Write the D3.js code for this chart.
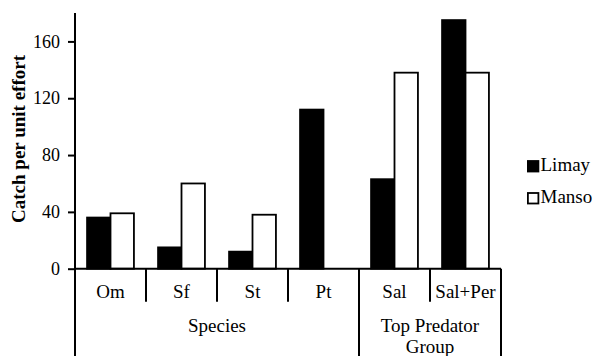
<!DOCTYPE html>
<html>
<head>
<meta charset="utf-8">
<script src="https://cdn.jsdelivr.net/npm/d3@7"></script>
<style>
  body { margin: 0; background: #fff; }
  svg text { font-family: "Liberation Serif", "Times New Roman", Times, serif; fill: #000; }
</style>
</head>
<body>
<div id="visContainer"></div>
<script>
// values
const categories = ["Om", "Sf", "St", "Pt", "Sal", "Sal+Per"];
const seriesNames = ["Limay", "Manso"];
const limay = [36, 15, 12, 112, 63, 175];
const manso = [39, 60, 38, 0, 138, 138];
const groups = [
  { label: ["Species"], first: "Om", last: "Pt" },
  { label: ["Top Predator", "Group"], first: "Sal", last: "Sal+Per" }
];
const yTicks = [0, 40, 80, 120, 160];

const width = 595;
const height = 356;
const margin = { top: 13, left: 75, right: 94, axisY: 268.7 };

const svg = d3.select("#visContainer")
  .append("svg")
  .attr("width", width)
  .attr("height", height);

const xScale = d3.scaleBand()
  .domain(categories)
  .range([margin.left, width - margin.right])
  .padding(0);

const bw = xScale.bandwidth();
const inner = d3.scaleBand()
  .domain(seriesNames)
  .range([bw * 0.17, bw * 0.83]);

const yScale = d3.scaleLinear()
  .domain([0, 180])
  .range([margin.axisY, margin.top]);

const colors = { Limay: "#000", Manso: "#fff" };

// bars
const rows = [];
categories.forEach((c, i) => {
  rows.push({ cat: c, series: "Limay", value: limay[i] });
  rows.push({ cat: c, series: "Manso", value: manso[i] });
});

svg.append("g")
  .selectAll("rect")
  .data(rows.filter(d => d.value > 0))
  .join("rect")
  .attr("x", d => xScale(d.cat) + inner(d.series))
  .attr("y", d => yScale(d.value))
  .attr("width", inner.bandwidth())
  .attr("height", d => yScale(0) - yScale(d.value))
  .attr("fill", d => colors[d.series])
  .attr("stroke", "#000")
  .attr("stroke-width", 1.8);

// y axis
const yAxis = svg.append("g")
  .attr("transform", `translate(${margin.left},0)`)
  .call(d3.axisLeft(yScale).tickValues(yTicks).tickSize(7).tickPadding(8));
yAxis.attr("font-family", null).attr("font-size", null);
yAxis.select(".domain").remove();
yAxis.selectAll("line").attr("stroke", "#000").attr("stroke-width", 2);
yAxis.selectAll("text")
  .style("font-size", "18px")
  .attr("fill", "#000");

// vertical axis line runs down through the label table
svg.append("line")
  .attr("x1", margin.left).attr("x2", margin.left)
  .attr("y1", margin.top).attr("y2", height)
  .attr("stroke", "#000").attr("stroke-width", 2);

// x axis line
svg.append("line")
  .attr("x1", margin.left).attr("x2", width - margin.right)
  .attr("y1", yScale(0)).attr("y2", yScale(0))
  .attr("stroke", "#000").attr("stroke-width", 2);

// category dividers
const groupEnds = groups.map(g => g.last);
categories.forEach(c => {
  const x = xScale(c) + bw;
  const long = groupEnds.includes(c);
  svg.append("line")
    .attr("x1", x).attr("x2", x)
    .attr("y1", yScale(0))
    .attr("y2", long ? height : yScale(0) + 33)
    .attr("stroke", "#000").attr("stroke-width", 2);
});

// category labels
svg.append("g")
  .selectAll("text")
  .data(categories)
  .join("text")
  .attr("x", d => xScale(d) + bw / 2)
  .attr("y", yScale(0) + 29.5)
  .attr("text-anchor", "middle")
  .style("font-size", "19px")
  .text(d => d);

// group labels
groups.forEach(g => {
  const cx = (xScale(g.first) + xScale(g.last) + bw) / 2;
  g.label.forEach((t, j) => {
    svg.append("text")
      .attr("x", cx)
      .attr("y", yScale(0) + 63 + j * 21)
      .attr("text-anchor", "middle")
      .style("font-size", "19px")
      .text(t);
  });
});

// y axis title
svg.append("text")
  .attr("transform", "translate(25, 139) rotate(-90)")
  .attr("text-anchor", "middle")
  .style("font-size", "19px")
  .style("font-weight", "bold")
  .text("Catch per unit effort");

// legend
const legend = svg.append("g")
  .selectAll("g")
  .data(seriesNames)
  .join("g")
  .attr("transform", (d, i) => `translate(527, ${166.5 + i * 32})`);

legend.append("rect")
  .attr("x", 0.9).attr("y", -5.5)
  .attr("width", 10.5).attr("height", 10.5)
  .attr("fill", d => colors[d])
  .attr("stroke", "#000").attr("stroke-width", 1.8);

legend.append("text")
  .attr("x", 13.5)
  .attr("y", 4.5)
  .style("font-size", "19px")
  .text(d => d);
</script>
</body>
</html>
